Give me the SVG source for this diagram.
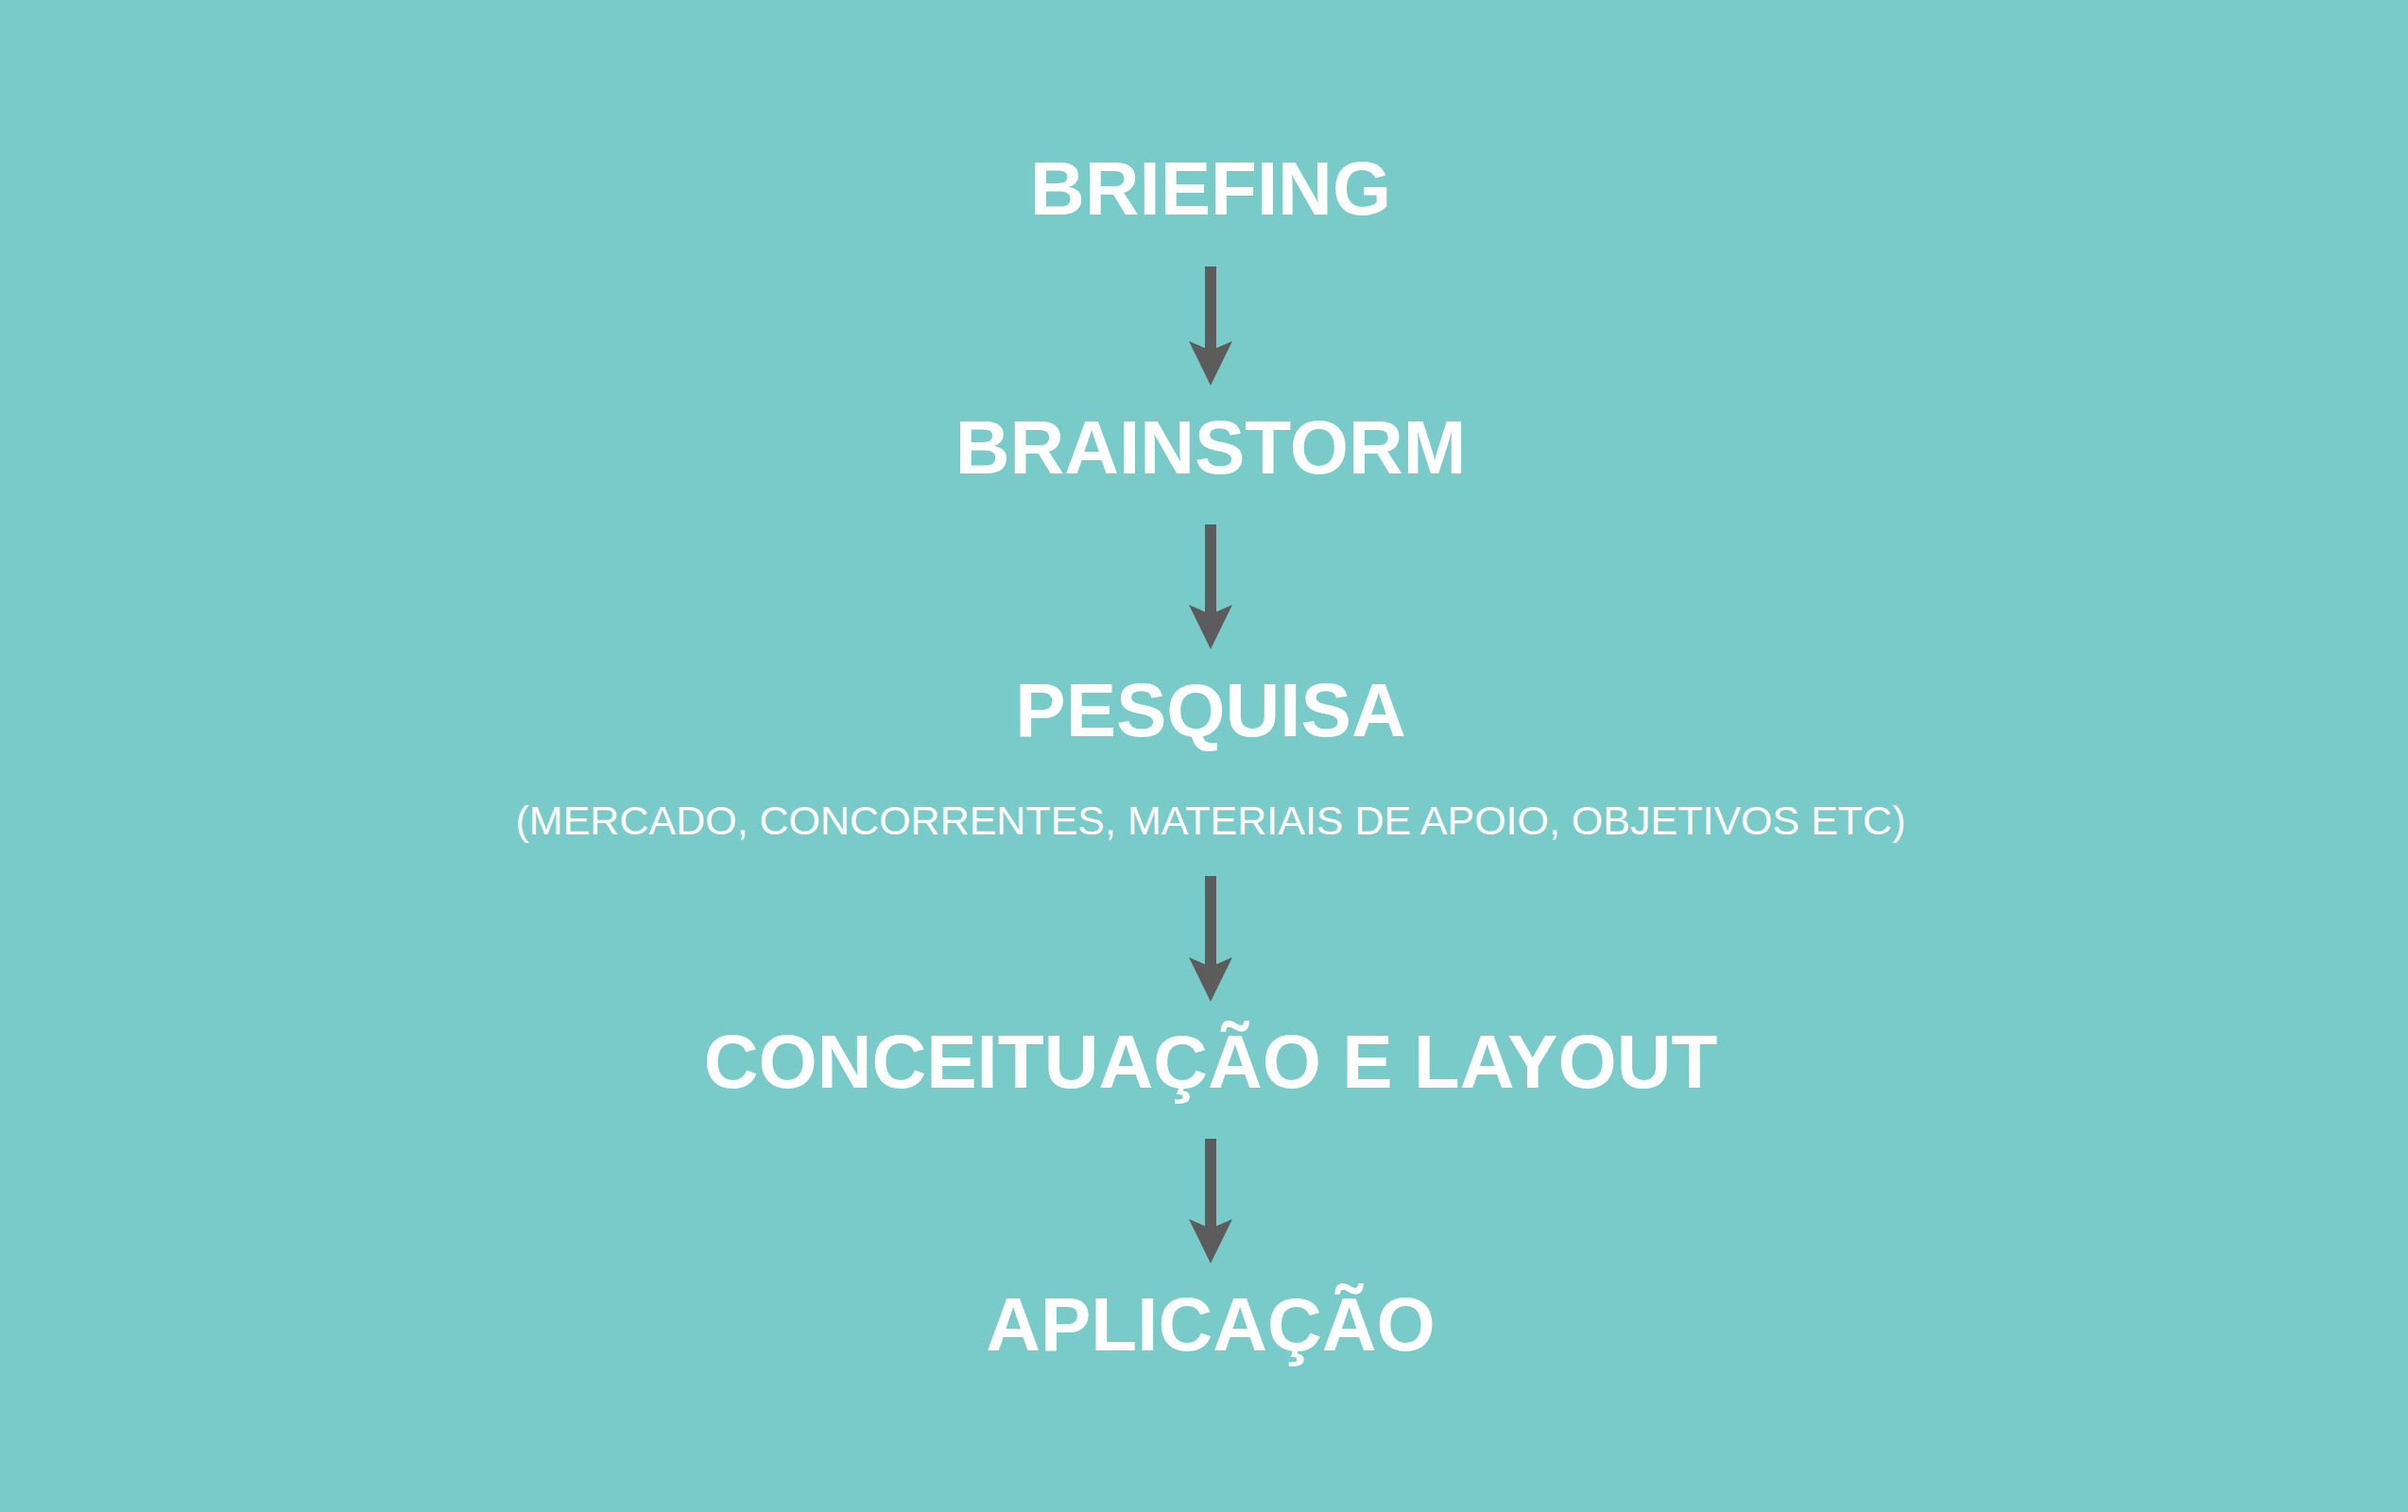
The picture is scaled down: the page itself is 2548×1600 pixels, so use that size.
<svg xmlns="http://www.w3.org/2000/svg" width="2548" height="1600" viewBox="0 0 2548 1600">
<style>
.t{font-family:"Liberation Sans",Arial,sans-serif;fill:#ffffff;text-anchor:middle}
.h{font-weight:bold;font-size:80px}
.s{font-size:43px}
.sh{fill:#5c5c5c}
</style>
<rect width="2548" height="1600" fill="#79cbca"/>
<g id="node-briefing"><text class="t h" x="1281" y="227">BRIEFING</text></g>
<g id="node-brainstorm"><text class="t h" x="1281" y="501">BRAINSTORM</text></g>
<g id="node-pesquisa"><text class="t h" x="1281" y="779">PESQUISA</text>
<text class="t s" x="1281" y="883">(MERCADO, CONCORRENTES, MATERIAIS DE APOIO, OBJETIVOS ETC)</text></g>
<g id="node-conceituacao"><text class="t h" x="1281" y="1151">CONCEITUAÇÃO E LAYOUT</text></g>
<g id="node-aplicacao"><text class="t h" x="1281" y="1429">APLICAÇÃO</text></g>
<g id="connectors">
<rect class="sh" x="1275" y="282" width="12" height="92"/>
<path class="sh" d="M1281,408 L1258,361 L1281,371 L1304,361 Z"/>
<rect class="sh" x="1275" y="555" width="12" height="98"/>
<path class="sh" d="M1281,687 L1258,640 L1281,650 L1304,640 Z"/>
<rect class="sh" x="1275" y="927" width="12" height="99"/>
<path class="sh" d="M1281,1060 L1258,1013 L1281,1023 L1304,1013 Z"/>
<rect class="sh" x="1275" y="1205" width="12" height="98"/>
<path class="sh" d="M1281,1337 L1258,1290 L1281,1300 L1304,1290 Z"/>
</g>
</svg>
